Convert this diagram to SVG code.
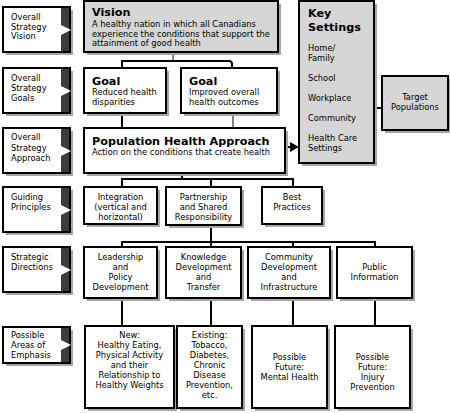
<svg xmlns="http://www.w3.org/2000/svg" width="450" height="413" viewBox="0 0 450 413">
<style>
text{font-family:"DejaVu Sans","Verdana",sans-serif;font-size:8.3px;fill:#000}
.t{font-size:11.2px;font-weight:bold}
.c{text-anchor:middle}
.box{fill:#fff;stroke:#000;stroke-width:2}
.gbox{fill:#d6d6d6;stroke:#000;stroke-width:2}
.sh{fill:#a6a6a6}
.bar{fill:#3c3c3c}
.tri{fill:#fff}
.ln{fill:none;stroke:#000;stroke-width:2}
.thin{fill:none;stroke:#333;stroke-width:1.2}
</style>
<rect width="450" height="413" fill="#fff"/>

<!-- left labels -->
<g id="lbl-vision">
<rect class="sh" x="6" y="10" width="67" height="45"/>
<rect class="box" x="3" y="7" width="67" height="45"/>
<rect class="bar" x="61" y="8" width="8" height="43"/>
<polygon class="tri" points="61,25 71,30 61,35"/>
<text x="11" y="20">Overall</text><text x="11" y="29.5">Strategy</text><text x="11" y="39">Vision</text>
</g>
<g id="lbl-goals">
<rect class="sh" x="6" y="71" width="67" height="45"/>
<rect class="box" x="3" y="68" width="67" height="45"/>
<rect class="bar" x="61" y="69" width="8" height="43"/>
<polygon class="tri" points="61,86 71,91 61,96"/>
<text x="11" y="81">Overall</text><text x="11" y="91">Strategy</text><text x="11" y="101">Goals</text>
</g>
<g id="lbl-approach">
<rect class="sh" x="6" y="131" width="67" height="45"/>
<rect class="box" x="3" y="128" width="67" height="45"/>
<rect class="bar" x="61" y="129" width="8" height="43"/>
<polygon class="tri" points="61,146 71,151 61,156"/>
<text x="11" y="140">Overall</text><text x="11" y="151">Strategy</text><text x="11" y="161">Approach</text>
</g>
<g id="lbl-principles">
<rect class="sh" x="6" y="190" width="67" height="45"/>
<rect class="box" x="3" y="187" width="67" height="45"/>
<rect class="bar" x="61" y="188" width="8" height="43"/>
<polygon class="tri" points="61,205 71,210 61,215"/>
<text x="11" y="200">Guiding</text><text x="11" y="210">Principles</text>
</g>
<g id="lbl-directions">
<rect class="sh" x="6" y="250" width="67" height="45"/>
<rect class="box" x="3" y="247" width="67" height="45"/>
<rect class="bar" x="61" y="248" width="8" height="43"/>
<polygon class="tri" points="61,265 71,270 61,275"/>
<text x="11" y="260">Strategic</text><text x="11" y="270">Directions</text>
</g>
<g id="lbl-emphasis">
<rect class="sh" x="6" y="330" width="67" height="36"/>
<rect class="box" x="3" y="327" width="67" height="36"/>
<rect class="bar" x="61" y="328" width="8" height="34"/>
<polygon class="tri" points="61,340 71,345 61,350"/>
<text x="11" y="338">Possible</text><text x="11" y="348">Areas of</text><text x="11" y="358">Emphasis</text>
</g>

<!-- connectors -->
<g id="connectors">
<path class="thin" d="M173,52 V61"/>
<path class="ln" d="M122,68 V61 H229 Q232,61 232,64 V68"/>
<path class="ln" d="M122,113 V128"/>
<path class="thin" d="M233,113 V128"/>
<path class="ln" d="M182,173 V179"/>
<path class="ln" d="M122,187 V179 H293 V187"/>
<path class="ln" d="M211,179 V187"/>
<path class="ln" d="M211,225 V247"/>
<path class="ln" d="M122,247 V242 H375 V247"/>
<path class="ln" d="M293,242 V247"/>
<path class="ln" d="M122,298 V326"/>
<path class="ln" d="M211,298 V326"/>
<path class="ln" d="M293,298 V326"/>
<path class="ln" d="M375,298 V326"/>
<path class="ln" d="M285,147 H291"/>
<polygon points="290,142 299,147 290,152" fill="#000"/>
<path class="ln" d="M374,108 H382"/>
</g>

<g id="vision">
<rect class="sh" x="87" y="4" width="194" height="51"/>
<rect class="gbox" x="84" y="1" width="194" height="51"/>
<text class="t" x="92" y="16">Vision</text>
<text x="92" y="27">A healthy nation in which all Canadians</text>
<text x="92" y="36.5">experience the conditions that support the</text>
<text x="92" y="46">attainment of good health</text>
</g>
<g id="key-settings">
<rect class="sh" x="302" y="4" width="75" height="162"/>
<rect class="gbox" x="299" y="1" width="75" height="162"/>
<text class="t" x="308" y="17">Key</text>
<text class="t" x="308" y="31">Settings</text>
<text x="308" y="51">Home/</text><text x="308" y="61">Family</text>
<text x="308" y="81">School</text>
<text x="308" y="101">Workplace</text>
<text x="308" y="121">Community</text>
<text x="308" y="140.5">Health Care</text><text x="308" y="150.5">Settings</text>
</g>
<g id="target-populations">
<rect class="sh" x="385" y="79" width="66" height="54"/>
<rect class="gbox" x="382" y="76" width="66" height="54"/>
<text class="c" x="415" y="100">Target</text><text class="c" x="415" y="110">Populations</text>
</g>
<g id="goal1">
<rect class="sh" x="87" y="71" width="82" height="45"/>
<rect class="box" x="84" y="68" width="82" height="45"/>
<text class="t" x="92" y="85">Goal</text>
<text x="92" y="94.5">Reduced health</text><text x="92" y="105">disparities</text>
</g>
<g id="goal2">
<rect class="sh" x="184" y="71" width="96" height="45"/>
<rect class="box" x="181" y="68" width="96" height="45"/>
<text class="t" x="189" y="85">Goal</text>
<text x="189" y="94.5">Improved overall</text><text x="189" y="105">health outcomes</text>
</g>
<g id="pha">
<rect class="sh" x="87" y="131" width="201" height="45"/>
<rect class="box" x="84" y="128" width="201" height="45"/>
<text class="t" x="92" y="145">Population Health Approach</text>
<text x="92" y="154.5">Action on the conditions that create health</text>
</g>

<g id="integration">
<rect class="sh" x="87" y="190" width="73" height="37"/>
<rect class="box" x="84" y="187" width="73" height="37"/>
<text class="c" x="120.5" y="200">Integration</text><text class="c" x="120.5" y="210">(vertical and</text><text class="c" x="120.5" y="220">horizontal)</text>
</g>
<g id="partnership">
<rect class="sh" x="169" y="190" width="75" height="38"/>
<rect class="box" x="166" y="187" width="75" height="38"/>
<text class="c" x="203.5" y="200">Partnership</text><text class="c" x="203.5" y="210">and Shared</text><text class="c" x="203.5" y="220">Responsibility</text>
</g>
<g id="best-practices">
<rect class="sh" x="265" y="190" width="60" height="37"/>
<rect class="box" x="262" y="187" width="60" height="37"/>
<text class="c" x="292" y="200">Best</text><text class="c" x="292" y="210">Practices</text>
</g>

<g id="leadership">
<rect class="sh" x="87" y="250" width="73" height="51"/>
<rect class="box" x="84" y="247" width="73" height="51"/>
<text class="c" x="120.5" y="260">Leadership</text><text class="c" x="120.5" y="270">and</text><text class="c" x="120.5" y="280">Policy</text><text class="c" x="120.5" y="290">Development</text>
</g>
<g id="knowledge">
<rect class="sh" x="169" y="250" width="75" height="51"/>
<rect class="box" x="166" y="247" width="75" height="51"/>
<text class="c" x="203.5" y="260">Knowledge</text><text class="c" x="203.5" y="270">Development</text><text class="c" x="203.5" y="280">and</text><text class="c" x="203.5" y="290">Transfer</text>
</g>
<g id="community">
<rect class="sh" x="251" y="250" width="82" height="51"/>
<rect class="box" x="248" y="247" width="82" height="51"/>
<text class="c" x="289" y="260">Community</text><text class="c" x="289" y="270">Development</text><text class="c" x="289" y="280">and</text><text class="c" x="289" y="290">Infrastructure</text>
</g>
<g id="public-info">
<rect class="sh" x="340" y="250" width="75" height="51"/>
<rect class="box" x="337" y="247" width="75" height="51"/>
<text class="c" x="374.5" y="270">Public</text><text class="c" x="374.5" y="280">Information</text>
</g>

<g id="new-emphasis">
<rect class="sh" x="88" y="329" width="89" height="82"/>
<rect class="box" x="85" y="326" width="89" height="82"/>
<text class="c" x="129.5" y="338">New:</text><text class="c" x="129.5" y="348">Healthy Eating,</text><text class="c" x="129.5" y="358">Physical Activity</text><text class="c" x="129.5" y="368">and their</text><text class="c" x="129.5" y="378">Relationship to</text><text class="c" x="129.5" y="388">Healthy Weights</text>
</g>
<g id="existing">
<rect class="sh" x="180" y="329" width="65" height="82"/>
<rect class="box" x="177" y="326" width="65" height="82"/>
<text class="c" x="209.5" y="338">Existing:</text><text class="c" x="209.5" y="348">Tobacco,</text><text class="c" x="209.5" y="358">Diabetes,</text><text class="c" x="209.5" y="368">Chronic</text><text class="c" x="209.5" y="378">Disease</text><text class="c" x="209.5" y="388">Prevention,</text><text class="c" x="209.5" y="398">etc.</text>
</g>
<g id="mental-health">
<rect class="sh" x="255" y="329" width="75" height="82"/>
<rect class="box" x="252" y="326" width="75" height="82"/>
<text class="c" x="289.5" y="360">Possible</text><text class="c" x="289.5" y="370">Future:</text><text class="c" x="289.5" y="380">Mental Health</text>
</g>
<g id="injury">
<rect class="sh" x="338" y="329" width="75" height="82"/>
<rect class="box" x="335" y="326" width="75" height="82"/>
<text class="c" x="372.5" y="360">Possible</text><text class="c" x="372.5" y="370">Future:</text><text class="c" x="372.5" y="380">Injury</text><text class="c" x="372.5" y="390">Prevention</text>
</g>
</svg>
